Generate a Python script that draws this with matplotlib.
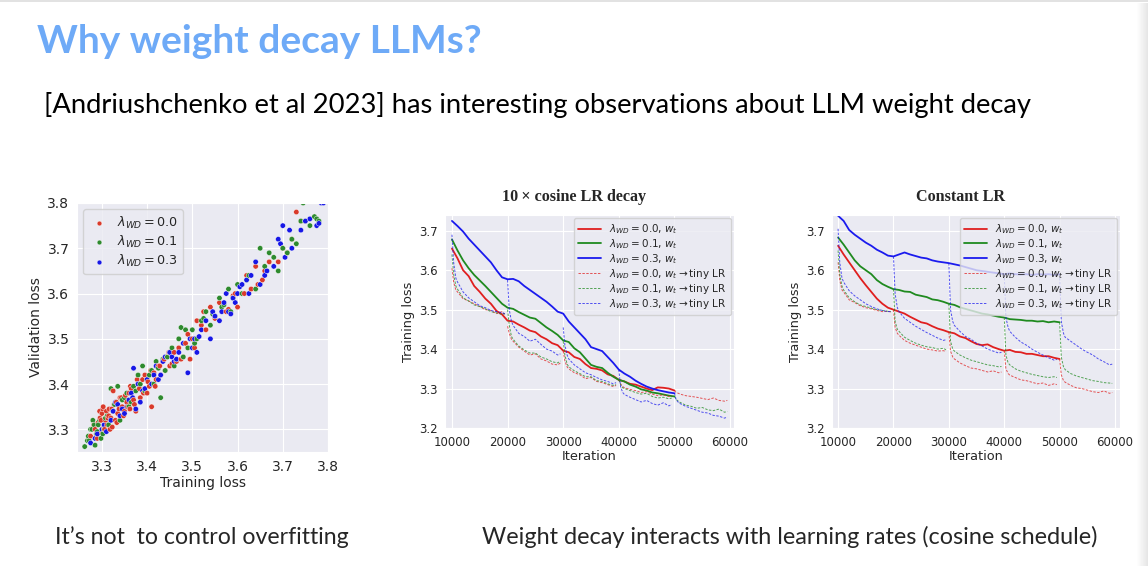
import matplotlib
matplotlib.use("Agg")
import matplotlib.pyplot as plt
import numpy as np
import seaborn as sns

# ---- scatter: training vs validation loss ----
red_train = [3.275, 3.285, 3.290, 3.292, 3.296, 3.300, 3.300, 3.302, 3.305, 3.308,
             3.310, 3.312, 3.315, 3.318, 3.320, 3.322, 3.325, 3.330, 3.332, 3.335,
             3.340, 3.345, 3.350, 3.352, 3.355, 3.360, 3.362, 3.365, 3.370, 3.375,
             3.380, 3.385, 3.390, 3.400, 3.405, 3.410, 3.415, 3.420, 3.425, 3.430,
             3.435, 3.440, 3.445, 3.450, 3.460, 3.465, 3.470, 3.480, 3.485, 3.490,
             3.500, 3.510, 3.520, 3.530, 3.540, 3.550, 3.560, 3.580, 3.590, 3.600,
             3.620, 3.630, 3.640, 3.660, 3.670, 3.700, 3.710, 3.720, 3.730, 3.740,
             3.282, 3.288, 3.295, 3.298, 3.303, 3.306, 3.313, 3.316, 3.323, 3.327,
             3.333, 3.338, 3.343, 3.348, 3.357, 3.363, 3.368, 3.372, 3.378, 3.383,
             3.392, 3.395, 3.402, 3.408, 3.418, 3.428, 3.438, 3.448, 3.455, 3.475,
             3.495, 3.505, 3.525, 3.545, 3.575, 3.595, 3.615, 3.645, 3.655, 3.690]
red_val = [3.285, 3.300, 3.280, 3.315, 3.325, 3.295, 3.335, 3.345, 3.305, 3.320,
           3.340, 3.310, 3.330, 3.300, 3.325, 3.345, 3.385, 3.320, 3.360, 3.335,
           3.370, 3.350, 3.340, 3.375, 3.360, 3.380, 3.345, 3.390, 3.365, 3.340,
           3.400, 3.370, 3.410, 3.380, 3.395, 3.350, 3.425, 3.410, 3.440, 3.420,
           3.450, 3.430, 3.460, 3.440, 3.470, 3.450, 3.480, 3.460, 3.490, 3.510,
           3.500, 3.540, 3.530, 3.520, 3.570, 3.545, 3.580, 3.565, 3.595, 3.570,
           3.640, 3.610, 3.660, 3.650, 3.670, 3.700, 3.690, 3.720, 3.780, 3.760,
           3.310, 3.290, 3.340, 3.320, 3.350, 3.300, 3.325, 3.345, 3.305, 3.355,
           3.315, 3.345, 3.370, 3.330, 3.350, 3.395, 3.370, 3.355, 3.410, 3.390,
           3.380, 3.420, 3.405, 3.430, 3.395, 3.440, 3.455, 3.470, 3.445, 3.455,
           3.455, 3.480, 3.560, 3.555, 3.560, 3.600, 3.600, 3.620, 3.630, 3.670]
green_train = [3.262, 3.270, 3.272, 3.278, 3.280, 3.285, 3.288, 3.292, 3.298, 3.305,
               3.312, 3.320, 3.328, 3.335, 3.340, 3.350, 3.360, 3.370, 3.380, 3.390,
               3.400, 3.410, 3.420, 3.430, 3.440, 3.450, 3.460, 3.470, 3.475, 3.480,
               3.490, 3.500, 3.510, 3.520, 3.530, 3.540, 3.550, 3.560, 3.570, 3.580,
               3.590, 3.600, 3.610, 3.620, 3.640, 3.650, 3.660, 3.670, 3.690, 3.700,
               3.710, 3.720, 3.730, 3.740, 3.745, 3.750, 3.760, 3.770, 3.775, 3.780,
               3.268, 3.275, 3.283, 3.290, 3.295, 3.302, 3.308, 3.315, 3.325, 3.345,
               3.355, 3.365, 3.375, 3.385, 3.395, 3.405, 3.415, 3.425, 3.435, 3.445,
               3.455, 3.465, 3.485, 3.505, 3.525, 3.545, 3.565, 3.585, 3.625, 3.680]
green_val = [3.262, 3.285, 3.275, 3.300, 3.320, 3.265, 3.290, 3.310, 3.280, 3.300,
             3.330, 3.390, 3.355, 3.395, 3.320, 3.370, 3.350, 3.395, 3.420, 3.440,
             3.410, 3.430, 3.450, 3.370, 3.430, 3.470, 3.440, 3.500, 3.525, 3.460,
             3.480, 3.520, 3.500, 3.540, 3.560, 3.530, 3.550, 3.590, 3.575, 3.610,
             3.590, 3.620, 3.600, 3.630, 3.610, 3.700, 3.660, 3.690, 3.650, 3.700,
             3.690, 3.720, 3.710, 3.760, 3.800, 3.760, 3.750, 3.770, 3.765, 3.760,
             3.275, 3.300, 3.310, 3.295, 3.320, 3.290, 3.325, 3.310, 3.340, 3.365,
             3.380, 3.360, 3.385, 3.400, 3.385, 3.420, 3.400, 3.435, 3.455, 3.460,
             3.480, 3.455, 3.520, 3.490, 3.545, 3.555, 3.570, 3.560, 3.640, 3.680]
blue_train = [3.275, 3.290, 3.300, 3.310, 3.320, 3.330, 3.340, 3.345, 3.350, 3.360,
              3.365, 3.370, 3.375, 3.380, 3.390, 3.400, 3.410, 3.420, 3.430, 3.440,
              3.450, 3.460, 3.470, 3.480, 3.490, 3.500, 3.505, 3.510, 3.520, 3.530,
              3.540, 3.550, 3.560, 3.570, 3.575, 3.580, 3.590, 3.600, 3.610, 3.620,
              3.630, 3.640, 3.650, 3.660, 3.680, 3.690, 3.700, 3.705, 3.720, 3.740,
              3.760, 3.775, 3.785, 3.790, 3.780,
              3.285, 3.305, 3.325, 3.335, 3.355, 3.368, 3.385, 3.395, 3.415, 3.425,
              3.435, 3.455, 3.465, 3.495, 3.515, 3.545, 3.565, 3.585, 3.595, 3.605,
              3.625, 3.665, 3.695, 3.715, 3.750]
blue_val = [3.270, 3.290, 3.300, 3.295, 3.320, 3.360, 3.330, 3.345, 3.335, 3.365,
            3.380, 3.435, 3.345, 3.400, 3.385, 3.410, 3.400, 3.440, 3.420, 3.460,
            3.470, 3.450, 3.470, 3.490, 3.425, 3.480, 3.500, 3.470, 3.520, 3.540,
            3.500, 3.550, 3.540, 3.580, 3.600, 3.560, 3.590, 3.600, 3.620, 3.630,
            3.640, 3.670, 3.620, 3.640, 3.660, 3.720, 3.750, 3.680, 3.700, 3.740,
            3.765, 3.750, 3.800, 3.800, 3.755,
            3.280, 3.310, 3.340, 3.355, 3.350, 3.370, 3.360, 3.390, 3.420, 3.410,
            3.450, 3.460, 3.455, 3.500, 3.505, 3.560, 3.560, 3.555, 3.580, 3.615,
            3.600, 3.650, 3.710, 3.740, 3.760]

wd_labels = ["0.0", "0.1", "0.3"]

# ---- training curves (iteration 10000..50000, every 1000) ----
solid_iters = np.arange(10000, 50001, 1000)
cos_solid = {
    "0.0": [3.655, 3.630, 3.600, 3.585, 3.560, 3.545, 3.528, 3.515, 3.497, 3.488,
            3.472, 3.470, 3.462, 3.455, 3.447, 3.443, 3.432, 3.425, 3.415, 3.410,
            3.396, 3.392, 3.380, 3.375, 3.362, 3.352, 3.350, 3.346, 3.336, 3.332,
            3.322, 3.318, 3.312, 3.310, 3.305, 3.300, 3.296, 3.303, 3.302, 3.300, 3.295],
    "0.1": [3.678, 3.650, 3.625, 3.605, 3.588, 3.574, 3.560, 3.545, 3.530, 3.515,
            3.505, 3.502, 3.494, 3.487, 3.480, 3.477, 3.466, 3.455, 3.446, 3.436,
            3.422, 3.418, 3.402, 3.392, 3.376, 3.360, 3.355, 3.352, 3.340, 3.330,
            3.322, 3.318, 3.310, 3.305, 3.298, 3.295, 3.290, 3.288, 3.285, 3.282, 3.280],
    "0.3": [3.725, 3.712, 3.698, 3.680, 3.665, 3.650, 3.635, 3.620, 3.600, 3.582,
            3.577, 3.578, 3.572, 3.560, 3.550, 3.540, 3.530, 3.520, 3.508, 3.495,
            3.490, 3.470, 3.455, 3.440, 3.425, 3.405, 3.400, 3.395, 3.380, 3.365,
            3.348, 3.338, 3.330, 3.320, 3.312, 3.305, 3.300, 3.296, 3.293, 3.290, 3.288],
}
const_solid = {
    "0.0": [3.662, 3.640, 3.620, 3.600, 3.580, 3.562, 3.545, 3.528, 3.515, 3.505,
            3.500, 3.495, 3.490, 3.482, 3.475, 3.468, 3.465, 3.458, 3.452, 3.448,
            3.443, 3.440, 3.432, 3.428, 3.420, 3.413, 3.410, 3.412, 3.405, 3.400,
            3.396, 3.398, 3.393, 3.392, 3.388, 3.388, 3.385, 3.382, 3.382, 3.378, 3.375],
    "0.1": [3.683, 3.665, 3.645, 3.625, 3.610, 3.600, 3.590, 3.575, 3.565, 3.558,
            3.552, 3.550, 3.546, 3.545, 3.538, 3.535, 3.532, 3.526, 3.524, 3.520,
            3.515, 3.512, 3.506, 3.502, 3.498, 3.494, 3.490, 3.488, 3.485, 3.482,
            3.480, 3.476, 3.475, 3.474, 3.472, 3.472, 3.470, 3.471, 3.468, 3.470, 3.468],
    "0.3": [3.738, 3.725, 3.702, 3.690, 3.680, 3.670, 3.662, 3.652, 3.645, 3.637,
            3.635, 3.640, 3.645, 3.640, 3.636, 3.632, 3.630, 3.625, 3.622, 3.620,
            3.618, 3.615, 3.612, 3.608, 3.604, 3.600, 3.598, 3.596, 3.594, 3.592,
            3.590, 3.592, 3.590, 3.589, 3.590, 3.588, 3.590, 3.589, 3.590, 3.588, 3.590],
}

# tiny-LR runs: start iteration + offsets
seg_starts = [10000, 20000, 30000, 40000, 50000]
seg_offsets = [0, 300, 700, 1000, 2000, 3000, 4000, 5000, 6000, 7000, 8000, 9000, 9500]
cos_tiny = {
    "0.0": [[3.605, 3.570, 3.550, 3.545, 3.528, 3.522, 3.515, 3.508, 3.500, 3.498, 3.490, 3.495, 3.488],
            [3.458, 3.440, 3.425, 3.420, 3.405, 3.395, 3.385, 3.388, 3.375, 3.370, 3.362, 3.360, 3.365],
            [3.395, 3.370, 3.355, 3.350, 3.340, 3.335, 3.325, 3.328, 3.318, 3.315, 3.310, 3.305, 3.308],
            [3.322, 3.312, 3.305, 3.302, 3.298, 3.295, 3.290, 3.292, 3.286, 3.282, 3.284, 3.280, 3.282],
            [3.295, 3.290, 3.288, 3.286, 3.282, 3.280, 3.278, 3.275, 3.272, 3.276, 3.270, 3.268, 3.270]],
    "0.1": [[3.640, 3.590, 3.560, 3.552, 3.530, 3.522, 3.512, 3.508, 3.502, 3.495, 3.492, 3.488, 3.490],
            [3.500, 3.460, 3.432, 3.425, 3.408, 3.398, 3.390, 3.390, 3.380, 3.375, 3.368, 3.365, 3.370],
            [3.420, 3.385, 3.362, 3.355, 3.345, 3.338, 3.330, 3.330, 3.320, 3.318, 3.312, 3.308, 3.310],
            [3.322, 3.310, 3.302, 3.300, 3.295, 3.290, 3.286, 3.288, 3.280, 3.276, 3.278, 3.274, 3.276],
            [3.280, 3.272, 3.268, 3.265, 3.258, 3.255, 3.250, 3.252, 3.246, 3.244, 3.248, 3.240, 3.242]],
    "0.3": [[3.690, 3.620, 3.580, 3.570, 3.545, 3.530, 3.520, 3.510, 3.505, 3.498, 3.495, 3.492, 3.490],
            [3.575, 3.500, 3.470, 3.460, 3.440, 3.432, 3.420, 3.425, 3.412, 3.400, 3.395, 3.385, 3.388],
            [3.455, 3.410, 3.385, 3.375, 3.360, 3.350, 3.340, 3.335, 3.328, 3.322, 3.318, 3.312, 3.315],
            [3.348, 3.305, 3.290, 3.285, 3.278, 3.272, 3.266, 3.270, 3.262, 3.258, 3.264, 3.256, 3.260],
            [3.288, 3.272, 3.265, 3.262, 3.255, 3.250, 3.245, 3.240, 3.238, 3.232, 3.230, 3.225, 3.228]],
}
const_tiny = {
    "0.0": [[3.620, 3.575, 3.550, 3.545, 3.525, 3.518, 3.510, 3.505, 3.502, 3.498, 3.495, 3.496, 3.494],
            [3.500, 3.455, 3.440, 3.435, 3.422, 3.415, 3.410, 3.405, 3.400, 3.398, 3.395, 3.396, 3.394],
            [3.443, 3.395, 3.380, 3.375, 3.365, 3.358, 3.352, 3.350, 3.346, 3.342, 3.345, 3.340, 3.342],
            [3.396, 3.350, 3.338, 3.334, 3.328, 3.322, 3.320, 3.316, 3.312, 3.314, 3.308, 3.312, 3.310],
            [3.375, 3.335, 3.320, 3.316, 3.308, 3.302, 3.300, 3.296, 3.292, 3.290, 3.294, 3.288, 3.290]],
    "0.1": [[3.650, 3.590, 3.560, 3.550, 3.530, 3.520, 3.512, 3.508, 3.504, 3.500, 3.498, 3.496, 3.495],
            [3.552, 3.470, 3.450, 3.445, 3.430, 3.422, 3.415, 3.410, 3.406, 3.404, 3.400, 3.402, 3.398],
            [3.515, 3.420, 3.400, 3.395, 3.385, 3.378, 3.372, 3.368, 3.364, 3.360, 3.358, 3.355, 3.356],
            [3.480, 3.385, 3.365, 3.360, 3.350, 3.344, 3.340, 3.336, 3.333, 3.330, 3.328, 3.330, 3.328],
            [3.468, 3.380, 3.355, 3.348, 3.338, 3.332, 3.328, 3.324, 3.320, 3.318, 3.315, 3.314, 3.313]],
    "0.3": [[3.705, 3.620, 3.580, 3.570, 3.548, 3.535, 3.525, 3.515, 3.508, 3.502, 3.498, 3.495, 3.496],
            [3.635, 3.540, 3.505, 3.495, 3.478, 3.468, 3.458, 3.450, 3.442, 3.435, 3.428, 3.422, 3.424],
            [3.618, 3.500, 3.470, 3.460, 3.445, 3.432, 3.425, 3.415, 3.408, 3.400, 3.395, 3.390, 3.392],
            [3.590, 3.480, 3.455, 3.445, 3.430, 3.418, 3.410, 3.400, 3.392, 3.385, 3.378, 3.372, 3.374],
            [3.590, 3.470, 3.440, 3.430, 3.420, 3.410, 3.400, 3.392, 3.385, 3.375, 3.368, 3.360, 3.362]],
}

line_colors = {"0.0": "#e01f1f", "0.1": "#1f8a1f", "0.3": "#1a1aee"}
dot_colors = {"0.0": "#d93a2b", "0.1": "#2e8a2e", "0.3": "#1717e6"}

sns.set_style("darkgrid")
plt.rcParams["font.family"] = ["DejaVu Sans"]
plt.rcParams["axes.labelcolor"] = "#262626"
plt.rcParams["xtick.color"] = "#262626"
plt.rcParams["ytick.color"] = "#262626"

W, H = 1148, 566
fig = plt.figure(figsize=(W / 100, H / 100), dpi=100)
fig.patch.set_facecolor("white")


def box(l, t, r, b):
    return [l / W, 1 - b / H, (r - l) / W, (b - t) / H]


# slide text
fig.text(37 / W, 1 - 53 / H, "Why weight decay LLMs?", fontsize=28, fontweight="bold",
         color="#6eaaf7", family=["Lato", "DejaVu Sans"], va="baseline")
fig.text(44 / W, 1 - 113 / H,
         "[Andriushchenko et al 2023] has interesting observations about LLM weight decay",
         fontsize=19.7, color="black", family=["Lato", "DejaVu Sans"], va="baseline")
fig.text(55 / W, 1 - 544 / H, "It\u2019s not  to control overfitting", fontsize=16.7,
         family=["Lato", "DejaVu Sans"], va="baseline")
fig.text(482 / W, 1 - 544 / H, "Weight decay interacts with learning rates (cosine schedule)",
         fontsize=16.8, family=["Lato", "DejaVu Sans"], va="baseline")

# scatter: all groups in one call, drawn in order of training loss so colours mix
ax0 = fig.add_axes(box(77, 203, 328, 452))
all_tr = np.array(red_train + green_train + blue_train)
all_va = np.array(red_val + green_val + blue_val)
all_c = np.array([dot_colors["0.0"]] * len(red_train) + [dot_colors["0.1"]] * len(green_train)
                 + [dot_colors["0.3"]] * len(blue_train))
order = np.argsort(all_tr, kind="stable")
ax0.scatter(all_tr[order], all_va[order], s=15, c=all_c[order], edgecolor="white", linewidth=0.3)
for key in wd_labels:
    ax0.scatter([], [], s=15, color=dot_colors[key], edgecolor="white", linewidth=0.3,
                label=r"$\lambda_{WD} = %s$" % key)
ax0.set_xlim(3.245, 3.8)
ax0.set_ylim(3.25, 3.8)
ax0.set_xticks([3.3, 3.4, 3.5, 3.6, 3.7, 3.8])
ax0.set_yticks([3.3, 3.4, 3.5, 3.6, 3.7, 3.8])
ax0.tick_params(labelsize=10, pad=2)
ax0.set_xlabel("Training loss", fontsize=10, labelpad=2)
ax0.set_ylabel("Validation loss", fontsize=10, labelpad=3)
ax0.legend(loc="upper left", fontsize=9.2, markerscale=0.9, handletextpad=0.6,
           borderpad=0.4, labelspacing=0.25, handlelength=1.6)


def curves(ax, solid, tiny, title, title_x, xlim):
    for key in wd_labels:
        ax.plot(solid_iters, solid[key], color=line_colors[key], lw=1.3,
                label=r"$\lambda_{WD} = %s$, $w_t$" % key)
    for key in wd_labels:
        for i, st in enumerate(seg_starts):
            xs = [st + o for o in seg_offsets]
            ax.plot(xs, tiny[key][i], color=line_colors[key], lw=0.7, ls=(0, (2.5, 1.5)),
                    alpha=0.75,
                    label=(r"$\lambda_{WD} = %s$, $w_t\rightarrow$tiny LR" % key) if i == 0 else None)
    ax.set_xlim(*xlim)
    ax.set_ylim(3.2, 3.74)
    ax.set_xticks([10000, 20000, 30000, 40000, 50000, 60000])
    ax.set_yticks([3.2, 3.3, 3.4, 3.5, 3.6, 3.7])
    ax.tick_params(labelsize=8.5, pad=2)
    ax.set_xlabel("Iteration", fontsize=9.3, labelpad=1)
    ax.set_ylabel("Training loss", fontsize=9.3, labelpad=3)
    ax.legend(loc="upper right", fontsize=7.5, borderpad=0.4, labelspacing=0.1,
              handlelength=2.2, borderaxespad=0.3)
    fig.text(title_x / W, 1 - 197 / H, title, fontsize=11.6, fontweight="bold",
             family=["Liberation Serif", "DejaVu Serif"], ha="center", va="center")


ax1 = fig.add_axes(box(445, 215, 734, 428))
curves(ax1, cos_solid, cos_tiny, "10\u2009\u00d7 cosine LR decay", 574, (8750, 60700))
ax2 = fig.add_axes(box(832, 215, 1120, 428))
curves(ax2, const_solid, const_tiny, "Constant LR", 961, (8900, 60900))

# faint slide edge
edge = fig.add_axes([1136 / W, 0, 12 / W, 1 - 3 / H])
edge.imshow(np.linspace(1.0, 0.9, 12)[None, :], cmap="gray", vmin=0, vmax=1, aspect="auto")
edge.axis("off")
top = fig.add_axes([0, 1 - 2 / H, 1, 2 / H])
top.set_facecolor("#e2e2e2")
top.set_xticks([])
top.set_yticks([])
for s in top.spines.values():
    s.set_visible(False)

fig.savefig("out.png", dpi=100, facecolor="white")
